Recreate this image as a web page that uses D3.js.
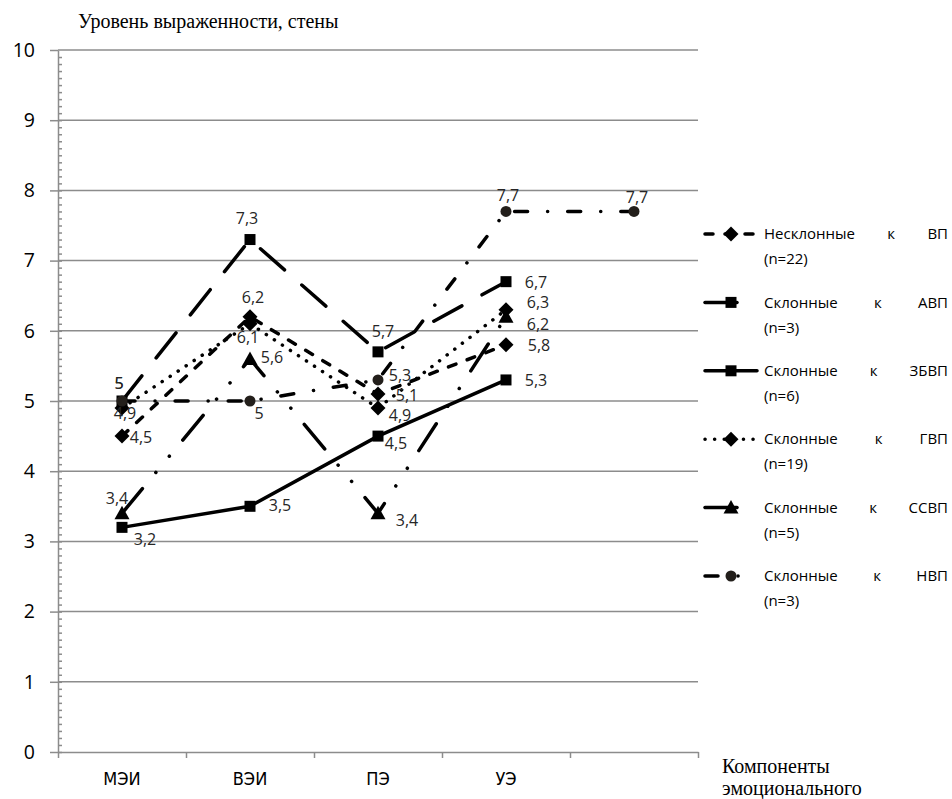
<!DOCTYPE html>
<html>
<head>
<meta charset="utf-8">
<script src="https://cdn.jsdelivr.net/npm/d3@7/dist/d3.min.js"></script>
<style>
  body { margin: 0; background: #fff; }
  svg { display: block; }
  .grid line { stroke: #8c8c8c; stroke-width: 1.5px; }
  .axis path, .axis line { stroke: #8c8c8c; stroke-width: 1.5px; }
  .axis text { fill: #000; }
  .series path.line { fill: none; stroke: #000; stroke-width: 3.5px; stroke-linecap: round; }
  .lbl { font-family: "Open Sans", sans-serif; font-size: 16px; fill: #262626; }
  .leg { font-family: "Open Sans", sans-serif; font-size: 15px; fill: #000; }
  .serif { font-family: "Liberation Serif", "Times New Roman", serif; font-size: 20px; fill: #000; }
</style>
</head>
<body>
<svg width="952" height="799"></svg>

<script>
// Data
var categories = ["МЭИ", "ВЭИ", "ПЭ", "УЭ", ""];
var seriesNames = ["Несклонные к ВП", "Склонные к АВП", "Склонные к ЗБВП", "Склонные к ГВП", "Склонные к ССВП", "Склонные к НВП"];
var seriesN = ["(n=22)", "(n=3)", "(n=6)", "(n=19)", "(n=5)", "(n=3)"];
var nesklonnye = [4.5, 6.2, 5.1, 5.8];
var avp = [5, 7.3, 5.7, 6.7];
var zbvp = [3.2, 3.5, 4.5, 5.3];
var gvp = [4.9, 6.1, 4.9, 6.3];
var ssvp = [3.4, 5.6, 3.4, 6.2];
var nvp = [5, 5, 5.3, 7.7, 7.7];
var yTicks = [0, 1, 2, 3, 4, 5, 6, 7, 8, 9, 10];

var allSeries = [nesklonnye, avp, zbvp, gvp, ssvp, nvp];

// styles per series
var markers = ["diamond", "square", "square", "diamond", "triangle", "circle"];
var dashes = ["8 12", "32 23", null, "0.1 9.5", "32 21 0.1 21 0.1 21", "13 20 0.1 20"];

// label offsets (px from the marker)
var labelOffsets = [
  [[19, 1], [3, -19], [29, 1], [33, 1]],
  [[-3, -18], [-3, -21], [5, -20], [30, 1]],
  [[23, 12], [30, -1], [18, 7], [30, 0]],
  [[3, 5], [-2, 14], [22, 7], [32, -7]],
  [[-5, -15], [22, -1], [29, 7], [32, 8]],
  [[-3, -18], [9, 12], [22, -5], [2, -16], [3, -14]]
];

var svg = d3.select("svg");
var plotLeft = 58, plotRight = 698, plotTop = 50, plotBottom = 752;

var x = d3.scaleBand().domain(categories.map(function(d, i) { return i; })).range([plotLeft, plotRight]);
var xEdge = d3.scaleLinear().domain([0, categories.length]).range([plotLeft, plotRight]);
var y = d3.scaleLinear().domain([0, 10]).range([plotBottom, plotTop]);
function cx(i) { return x(i) + x.bandwidth() / 2; }

// gridlines
svg.append("g").attr("class", "grid")
  .selectAll("line").data(yTicks.slice(1)).enter().append("line")
  .attr("x1", plotLeft).attr("x2", plotRight)
  .attr("y1", function(d) { return y(d); }).attr("y2", function(d) { return y(d); });

// y axis with major ticks outside
svg.append("g").attr("class", "axis")
  .attr("transform", "translate(" + plotLeft + ",0)")
  .call(d3.axisLeft(y).tickValues(yTicks).tickSize(8).tickSizeOuter(0).tickPadding(15))
  .call(function(g) {
    g.selectAll("text").style("font-family", "Open Sans, sans-serif").style("font-size", "19.5px");
  });

// minor ticks inside
svg.append("g").attr("class", "axis")
  .attr("transform", "translate(" + plotLeft + ",0)")
  .call(d3.axisRight(y).tickValues(d3.range(0, 100).map(function(d) { return d / 10; })).tickSize(4).tickSizeOuter(0).tickFormat(""))
  .select(".domain").remove();

// x axis with ticks at category edges
svg.append("g").attr("class", "axis")
  .attr("transform", "translate(0," + plotBottom + ")")
  .call(d3.axisBottom(xEdge).tickValues(d3.range(0, categories.length + 1)).tickSize(6).tickSizeOuter(0).tickFormat(""));

svg.append("g").selectAll("text").data(categories).enter().append("text")
  .attr("x", function(d, i) { return cx(i); })
  .attr("y", 785)
  .attr("text-anchor", "middle")
  .style("font-family", "'Liberation Sans Narrow', 'DejaVu Sans Condensed', sans-serif")
  .style("font-size", "18px")
  .text(function(d) { return d; });

// axis titles
svg.append("text").attr("class", "serif").attr("x", 78).attr("y", 28).text("Уровень выраженности, стены");
svg.append("text").attr("class", "serif").attr("x", 722).attr("y", 773).text("Компоненты");
svg.append("text").attr("class", "serif").attr("x", 722).attr("y", 795).text("эмоционального");

// marker drawing
function drawMarker(sel, type) {
  if (type === "diamond") {
    sel.append("path").attr("d", "M0,-7.5L7.5,0L0,7.5L-7.5,0Z");
  } else if (type === "square") {
    sel.append("rect").attr("x", -5.5).attr("y", -5.5).attr("width", 11).attr("height", 11);
  } else if (type === "triangle") {
    sel.append("path").attr("d", "M0,-7.5L7.5,6L-7.5,6Z");
  } else {
    sel.append("circle").attr("r", 5.5).style("fill", "#231f1b");
  }
}

var line = d3.line()
  .x(function(d, i) { return cx(i); })
  .y(function(d) { return y(d); });

allSeries.forEach(function(vals, s) {
  var g = svg.append("g").attr("class", "series");
  g.append("path").attr("class", "line")
    .attr("d", line(vals))
    .style("stroke-dasharray", dashes[s]);
  vals.forEach(function(v, i) {
    var m = g.append("g").attr("transform", "translate(" + cx(i) + "," + y(v) + ")").style("fill", "#000");
    drawMarker(m, markers[s]);
  });
});

// data labels on top
allSeries.forEach(function(vals, s) {
  svg.append("g").selectAll("text").data(vals).enter().append("text")
    .attr("class", "lbl")
    .attr("x", function(d, i) { return cx(i) + labelOffsets[s][i][0]; })
    .attr("y", function(d, i) { return y(d) + labelOffsets[s][i][1]; })
    .attr("text-anchor", "middle")
    .attr("dy", "0.35em")
    .text(function(d) { return String(d).replace(".", ","); });
});

// legend
var legX = 705, legMarkX = 731, legLineEnd = 757, textX = 764, textRight = 948;
seriesNames.forEach(function(name, s) {
  var ry = 234 + s * 68.4;
  var g = svg.append("g").attr("class", "series");
  g.append("path").attr("class", "line")
    .attr("d", "M" + legX + "," + ry + "H" + legLineEnd)
    .style("stroke-dasharray", dashes[s]);
  var m = g.append("g").attr("transform", "translate(" + legMarkX + "," + ry + ")").style("fill", "#000");
  drawMarker(m, markers[s]);

  // justified first line
  var words = name.split(" ");
  var texts = words.map(function(w) {
    return svg.append("text").attr("class", "leg").attr("y", ry).attr("dy", "0.35em").text(w);
  });
  var widths = texts.map(function(t) { return t.node().getComputedTextLength(); });
  var gap = (textRight - textX - d3.sum(widths)) / (words.length - 1);
  var pos = textX;
  texts.forEach(function(t, k) { t.attr("x", pos); pos += widths[k] + gap; });

  svg.append("text").attr("class", "leg").attr("x", textX).attr("y", ry + 25).attr("dy", "0.35em").text(seriesN[s]);
});
</script>
</body>
</html>
